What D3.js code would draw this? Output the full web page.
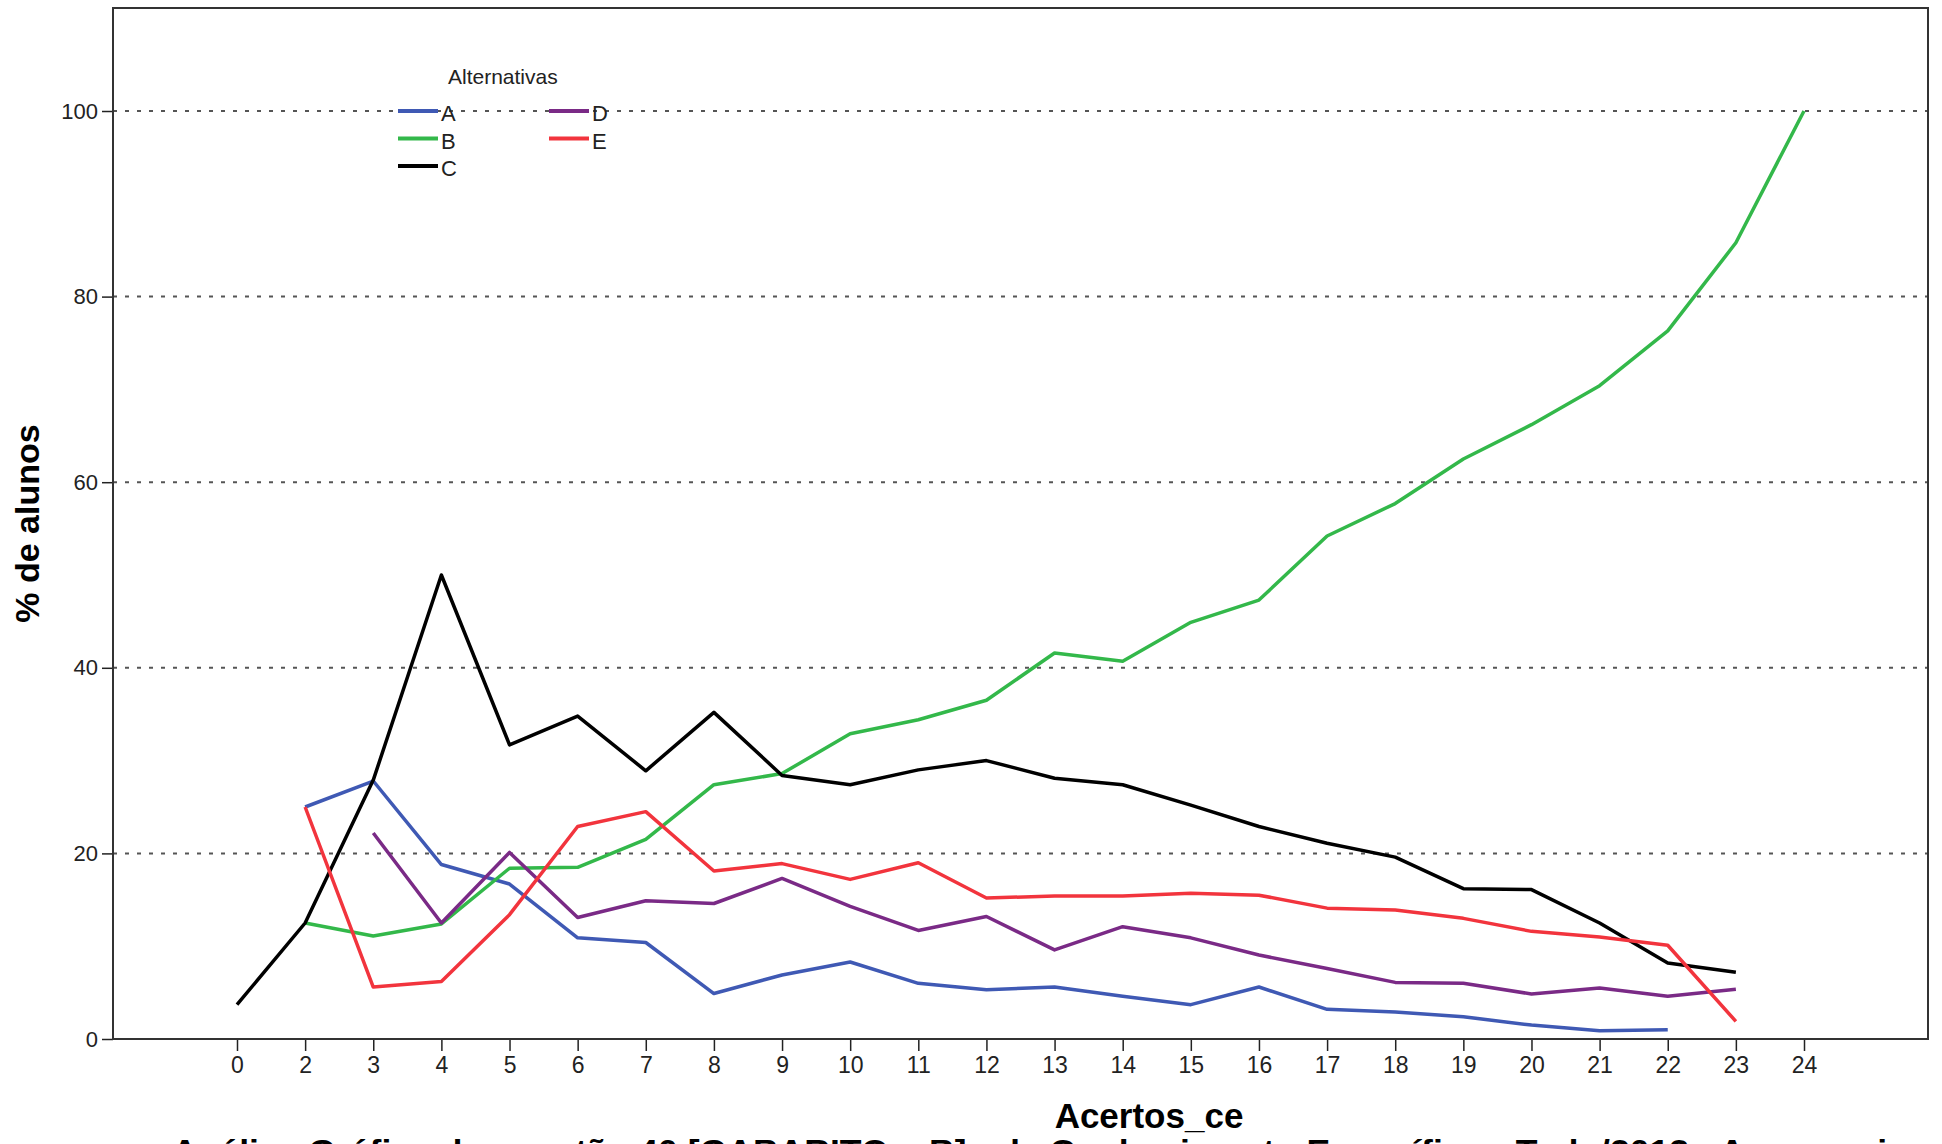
<!DOCTYPE html>
<html><head><meta charset="utf-8">
<script src="https://cdn.jsdelivr.net/npm/d3@7"></script>
<style>
body{margin:0;background:#fff}
svg{display:block}
text{font-family:"Liberation Sans",Arial,sans-serif}
</style>
</head><body>
<svg id="c" width="1942" height="1144"></svg>
<script>
// ---- data ----
const categories = ["0","2","3","4","5","6","7","8","9","10","11","12","13","14","15","16","17","18","19","20","21","22","23","24"];
const seriesA = [null,25.0,27.8,18.8,16.7,10.9,10.4,4.9,6.9,8.3,6.0,5.3,5.6,4.6,3.7,5.6,3.2,2.9,2.4,1.5,0.9,1.0,null,null];
const seriesB = [null,12.5,11.1,12.4,18.4,18.5,21.5,27.4,28.6,32.9,34.4,36.5,41.6,40.7,44.9,47.3,54.2,57.7,62.5,66.2,70.4,76.3,85.8,100];
const seriesC = [3.7,12.5,27.9,50.0,31.7,34.8,28.9,35.2,28.4,27.4,29.0,30.0,28.1,27.4,25.2,22.9,21.1,19.6,16.2,16.1,12.5,8.2,7.2,null];
const seriesD = [null,null,22.2,12.5,20.1,13.1,14.9,14.6,17.3,14.3,11.7,13.2,9.6,12.1,10.9,9.05,7.6,6.1,6.0,4.85,5.5,4.6,5.35,null];
const seriesE = [null,25.0,5.6,6.2,13.4,22.9,24.5,18.1,18.9,17.2,19.0,15.2,15.4,15.4,15.7,15.5,14.1,13.9,13.0,11.6,11.0,10.1,1.9,null];
const seriesNames = ["A","B","C","D","E"];
const yTicks = [0,20,40,60,80,100];
const legendTitle = "Alternativas";
const xTitle = "Acertos_ce";
const yTitle = "% de alunos";
const bottomTitle = "Análise Gráfica da questão 40 [GABARITO = B] - de Conhecimento Específico - Todo/2013 - Agronomia";

// ---- styles ----
const colors = {A:"#3f59b4", B:"#33b84a", C:"#000000", D:"#7a2a86", E:"#f2343d"};
const seriesData = {A:seriesA, B:seriesB, C:seriesC, D:seriesD, E:seriesE};

const L = 113, R = 1928, T = 8, B = 1039;
const svg = d3.select("#c");

const x = d3.scalePoint().domain(categories).range([L, R]).padding(1.82);
const y = d3.scaleLinear().domain([0, 111.1]).range([B, T]);

// gridlines
svg.append("g").selectAll("line").data(yTicks.filter(d => d > 0)).join("line")
  .attr("x1", L).attr("x2", R)
  .attr("y1", d => y(d)).attr("y2", d => y(d))
  .attr("stroke", "#555").attr("stroke-width", 2).attr("stroke-dasharray", "4,8");

// y axis
const yAxis = svg.append("g").attr("transform", `translate(${L},0)`)
  .call(d3.axisLeft(y).tickValues(yTicks).tickSize(11).tickPadding(4));
yAxis.select(".domain").remove();
yAxis.selectAll(".tick line").attr("stroke", "#222").attr("stroke-width", 1.5);
yAxis.selectAll(".tick text").attr("font-size", 22).attr("fill", "#222")
  .attr("font-family", "Liberation Sans, Arial, sans-serif");

// x axis
const xAxis = svg.append("g").attr("transform", `translate(0,${B})`)
  .call(d3.axisBottom(x).tickSize(12).tickPadding(6));
xAxis.select(".domain").remove();
xAxis.selectAll(".tick line").attr("stroke", "#222").attr("stroke-width", 1.5);
xAxis.selectAll(".tick text").attr("font-size", 23).attr("fill", "#222")
  .attr("font-family", "Liberation Sans, Arial, sans-serif");

// frame
svg.append("rect").attr("x", L).attr("y", T).attr("width", R - L).attr("height", B - T)
  .attr("fill", "none").attr("stroke", "#333").attr("stroke-width", 2);

// lines
const line = d3.line()
  .defined(d => d.v !== null)
  .x(d => x(d.c)).y(d => y(d.v));
seriesNames.forEach(n => {
  const pts = categories.map((c, i) => ({c, v: seriesData[n][i]}));
  svg.append("path").datum(pts)
    .attr("d", line)
    .attr("fill", "none")
    .attr("stroke", colors[n])
    .attr("stroke-width", 3.5)
    .attr("stroke-linejoin", "round");
});

// legend
const lg = svg.append("g");
lg.append("text").attr("x", 448).attr("y", 84).attr("font-size", 21).attr("fill", "#222").text(legendTitle);
const legendPos = [
  {n:"A", x:398, y:111}, {n:"B", x:398, y:138.5}, {n:"C", x:398, y:166},
  {n:"D", x:549, y:111}, {n:"E", x:549, y:138.5}
];
legendPos.forEach(p => {
  lg.append("line").attr("x1", p.x).attr("x2", p.x + 40).attr("y1", p.y).attr("y2", p.y)
    .attr("stroke", colors[p.n]).attr("stroke-width", 4);
  lg.append("text").attr("x", p.x + 43).attr("y", p.y + 10).attr("font-size", 22).attr("fill", "#222").text(p.n);
});

// axis titles
svg.append("text").attr("x", 1149).attr("y", 1128).attr("text-anchor", "middle")
  .attr("font-size", 35).attr("font-weight", "bold").attr("fill", "#000").text(xTitle);
svg.append("text").attr("transform", `translate(39,${(T + B) / 2}) rotate(-90)`)
  .attr("text-anchor", "middle").attr("font-size", 34).attr("font-weight", "bold").attr("fill", "#000").text(yTitle);

// bottom (cut) title
svg.append("text").attr("x", 172).attr("y", 1163)
  .attr("font-size", 34).attr("font-weight", "bold").attr("fill", "#000")
  .attr("textLength", 1735).attr("lengthAdjust", "spacingAndGlyphs")
  .text(bottomTitle);
</script>
</body></html>
